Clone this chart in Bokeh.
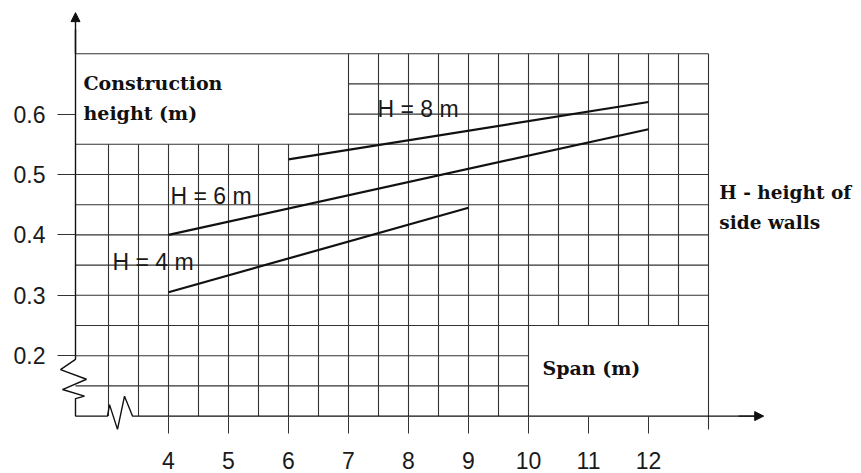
from bokeh.plotting import figure
from bokeh.models import Range1d, LinearAxis, FixedTicker, Arrow, NormalHead
from bokeh.core.properties import value
from bokeh.embed import file_html
from bokeh.resources import INLINE

# ---------------- data ----------------
span_ticks = [4, 5, 6, 7, 8, 9, 10, 11, 12]          # Span (m)
height_ticks = [0.2, 0.3, 0.4, 0.5, 0.6]             # Construction height (m)

h4_span = [4, 9]
h4_height = [0.305, 0.445]
h6_span = [4, 12]
h6_height = [0.40, 0.575]
h8_span = [6, 12]
h8_height = [0.525, 0.62]

series_labels = ["H = 4 m", "H = 6 m", "H = 8 m"]
y_title = ["Construction", "height (m)"]
x_title = "Span (m)"
note = ["H - height of", "side walls"]

# ---------------- figure ----------------
p = figure(width=861, height=473, output_backend="svg", toolbar_location=None,
           x_axis_type=None, y_axis_type=None,
           x_range=Range1d(1.2, 15.55), y_range=Range1d(0.00497, 0.78808),
           min_border=0, min_border_left=0, min_border_right=0,
           min_border_top=0, min_border_bottom=0,
           outline_line_color=None, background_fill_color="white",
           border_fill_color="white")

GRID = "#333333"
AX_X = 2.45   # position of the vertical axis (data units)
AX_Y = 0.1    # position of the horizontal axis (data units)

# grid paper
grid_v = [3.0, 3.5, 4.0, 4.5, 5.0, 5.5, 6.0, 6.5, 7.0, 7.5, 8.0, 8.5, 9.0,
          9.5, 10.0, 10.5, 11.0, 11.5, 12.0, 12.5, 13.0]
grid_h = [0.15, 0.2, 0.25, 0.3, 0.35, 0.4, 0.45, 0.5, 0.55, 0.6, 0.65, 0.7]
x0, y0, x1, y1 = [], [], [], []
for gx in grid_v:
    if gx < 6.99:
        lo, hi = AX_Y, 0.55
    elif 10.01 < gx < 12.99:
        lo, hi = 0.25, 0.7
    elif gx > 12.99:
        lo, hi = 0.078, 0.7
    else:
        lo, hi = AX_Y, 0.7
    x0.append(gx); x1.append(gx); y0.append(lo); y1.append(hi)
for gy in grid_h:
    if gy < 0.24:
        a, b = AX_X, 10.0
    elif 0.59 < gy < 0.66:
        a, b = 7.0, 13.0
    else:
        a, b = AX_X, 13.0
    x0.append(a); x1.append(b); y0.append(gy); y1.append(gy)
p.segment(x0=x0, y0=y0, x1=x1, y1=y1, line_color=GRID, line_width=1.1)

# axes lines with break marks
axis_path_x = [AX_X, AX_X, 2.2, 2.633, 2.233, 2.6, AX_X, AX_X, 2.983, 3.017,
               3.15, 3.267, 3.4, 13.85]
axis_path_y = [0.74, 0.194, 0.177, 0.161, 0.144, 0.133, 0.129, AX_Y, AX_Y,
               0.119, 0.078, 0.133, AX_Y, AX_Y]
p.line(axis_path_x, axis_path_y, line_color="#111111", line_width=1.4)
p.add_layout(Arrow(end=NormalHead(size=9, fill_color="#111111", line_color="#111111"),
                   x_start=AX_X, y_start=0.70, x_end=AX_X, y_end=0.768,
                   line_color="#111111", line_width=1.4))
p.add_layout(Arrow(end=NormalHead(size=9, fill_color="#111111", line_color="#111111"),
                   x_start=13.5, y_start=AX_Y, x_end=13.92, y_end=AX_Y,
                   line_color="#111111", line_width=1.4))

# tick labels via Bokeh axes at fixed locations
xaxis = LinearAxis(fixed_location=AX_Y, ticker=FixedTicker(ticks=span_ticks),
                   axis_line_color=None, major_tick_out=17, major_tick_in=0,
                   major_tick_line_color=GRID, minor_tick_line_color=None,
                   major_label_standoff=19,
                   major_label_text_font="Liberation Sans",
                   major_label_text_font_size="23px",
                   major_label_text_color="#1a1a1a")
p.add_layout(xaxis, "below")
yaxis = LinearAxis(fixed_location=AX_X, ticker=FixedTicker(ticks=height_ticks),
                   axis_line_color=None, major_tick_out=18, major_tick_in=0,
                   major_tick_line_color=GRID, minor_tick_line_color=None,
                   major_label_standoff=12,
                   major_label_text_font="Liberation Sans",
                   major_label_text_font_size="23px",
                   major_label_text_color="#1a1a1a")
p.add_layout(yaxis, "left")

# curves
for xs, ys in [(h4_span, h4_height), (h6_span, h6_height), (h8_span, h8_height)]:
    p.line(xs, ys, line_color="#111111", line_width=2.2)

# curve labels
p.text(x=[3.067, 4.033, 7.483], y=[0.355, 0.4636, 0.609], text=series_labels,
       text_font=value("Liberation Sans"), text_font_size="23px",
       text_color="#1a1a1a", text_baseline="alphabetic", text_align="left")

# titles
p.text(x=[2.583, 2.583], y=[0.6507, 0.601], text=y_title,
       text_font=value("DejaVu Serif"), text_font_style="bold",
       text_font_size="19px", text_color="#111111", text_baseline="alphabetic")
p.text(x=[10.233], y=[0.18], text=[x_title],
       text_font=value("DejaVu Serif"), text_font_style="bold",
       text_font_size="19px", text_color="#111111", text_baseline="alphabetic")
p.text(x=[13.18, 13.18], y=[0.470, 0.4205], text=note,
       text_font=value("DejaVu Serif"), text_font_style="bold",
       text_font_size="18.5px", text_color="#111111", text_baseline="alphabetic")

open("out.html", "w").write(file_html(p, INLINE))
